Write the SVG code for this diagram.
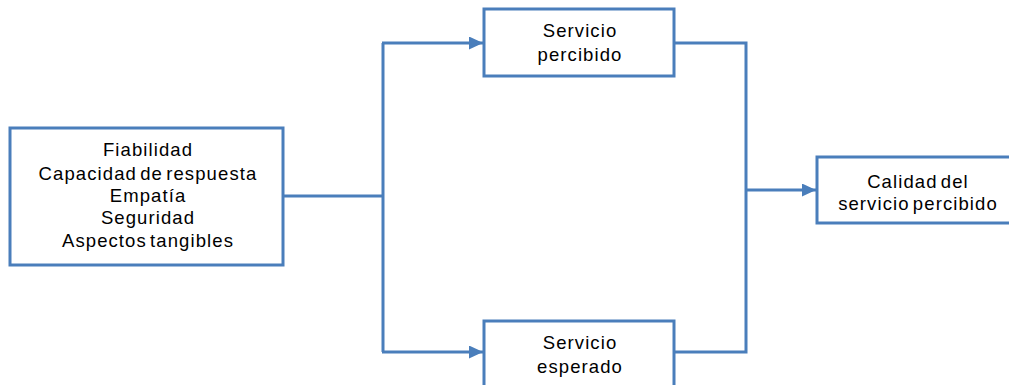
<svg xmlns="http://www.w3.org/2000/svg" width="1009" height="385" viewBox="0 0 1009 385">
  <style>
    .box { fill: #ffffff; stroke: #4a7ebb; stroke-width: 3; }
    .line { fill: none; stroke: #4a7ebb; stroke-width: 3; }
    .lbl { font-family: "Liberation Sans", Arial, sans-serif; font-size: 18.5px; fill: #000000; text-anchor: middle; letter-spacing: 1.1px; word-spacing: -3px; }
  </style>
  <defs>
    <marker id="arrow" markerWidth="14" markerHeight="13" refX="14" refY="6.5" orient="auto" markerUnits="userSpaceOnUse">
      <path d="M0,0 L14,6.5 L0,13 Z" fill="#4a7ebb"/>
    </marker>
  </defs>
  <rect width="1009" height="385" fill="#ffffff"/>

  <!-- connectors -->
  <g id="connectors">
    <polyline class="line" points="283,196 383,196"/>
    <polyline class="line" points="383,43 383,352"/>
    <polyline class="line" points="382,43 483,43" marker-end="url(#arrow)"/>
    <polyline class="line" points="382,352 483,352" marker-end="url(#arrow)"/>
    <polyline class="line" points="674,43 746,43 746,352 674,352"/>
    <polyline class="line" points="746,190 816,190" marker-end="url(#arrow)"/>
  </g>

  <!-- dimensions -->
  <g id="dimensiones">
    <rect class="box" x="10" y="128" width="273" height="137"/>
    <text class="lbl" x="148" y="156">Fiabilidad</text>
    <text class="lbl" x="148" y="180">Capacidad de respuesta</text>
    <text class="lbl" x="148" y="202">Empatía</text>
    <text class="lbl" x="148" y="224">Seguridad</text>
    <text class="lbl" x="148" y="247">Aspectos tangibles</text>
  </g>

  <!-- perceived service -->
  <g id="servicio-percibido">
    <rect class="box" x="484" y="9" width="190" height="67"/>
    <text class="lbl" x="580" y="37">Servicio</text>
    <text class="lbl" x="580" y="61">percibido</text>
  </g>

  <!-- expected service -->
  <g id="servicio-esperado">
    <rect class="box" x="484" y="321" width="190" height="80"/>
    <text class="lbl" x="580" y="349">Servicio</text>
    <text class="lbl" x="580" y="373">esperado</text>
  </g>

  <!-- perceived service quality -->
  <g id="calidad">
    <rect class="box" x="817" y="157" width="210" height="66"/>
    <text class="lbl" x="918" y="188">Calidad del</text>
    <text class="lbl" x="918" y="210">servicio percibido</text>
  </g>
</svg>
